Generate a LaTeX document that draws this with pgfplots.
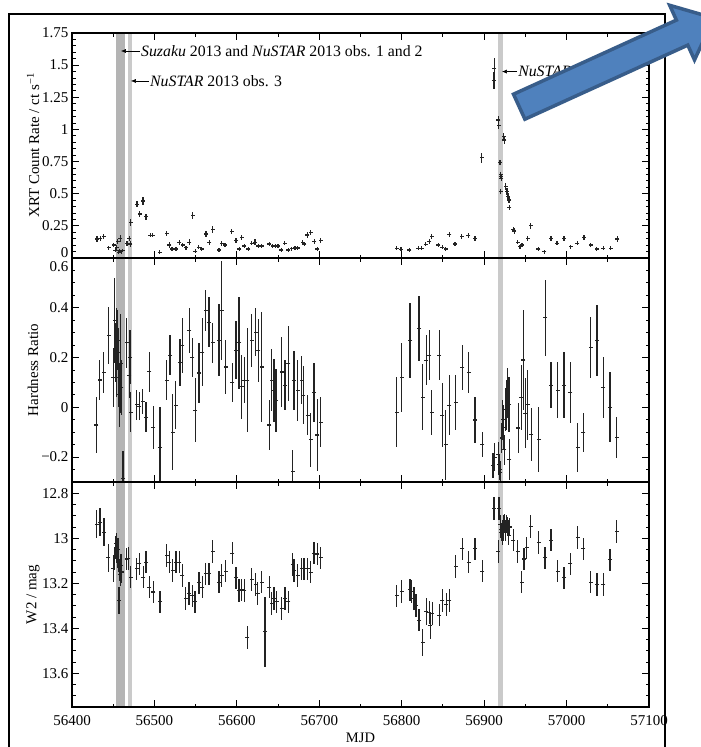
\documentclass[border=0pt]{standalone}
\usepackage{fontspec}
\setmainfont{Liberation Serif}
\usepackage{pgfplots}
\pgfplotsset{compat=1.18}
\usetikzlibrary{arrows.meta}

\definecolor{bandA}{RGB}{180,180,180}
\definecolor{bandB}{RGB}{202,202,202}
\definecolor{ink}{RGB}{35,35,35}
\definecolor{callout}{RGB}{79,129,189}
\definecolor{calloutedge}{RGB}{56,93,138}

\tikzset{note/.style={anchor=west, inner sep=0pt, font=\fontsize{15.8}{19}\selectfont}}

\pgfplotsset{
  lc/.style={
    scale only axis, width=577pt,
    xmin=56400, xmax=57100,
    scaled ticks=false,
    axis line style={line width=1.1pt},
    every tick/.style={black, line width=1pt},
    tick align=inside, xtick pos=both, ytick pos=both,
    major tick length=7pt, minor tick length=3.5pt,
    xtick={56400,56500,56600,56700,56800,56900,57000,57100},
    minor xtick={56450,56550,56650,56750,56850,56950,57050},
    font=\fontsize{15}{18}\selectfont,
    label style={font=\fontsize{14.5}{17}\selectfont},
    xticklabel style={yshift=-5pt},
    every axis y label/.style={at={(axis description cs:-0.0676,0.5)}, rotate=90, anchor=center},
    axis on top,
  },
  err/.style={only marks, mark=-, mark size=2pt, color=ink,
    mark options={line width=1.1pt, ink},
    error bars/.cd, y dir=both, y explicit,
    error bar style={line width=1.1pt, ink}, error mark=none},
}

\begin{document}
\begin{tikzpicture}
\path[use as bounding box] (0pt,0pt) rectangle (701pt,-747pt);
\fill[white] (0pt,0pt) rectangle (701pt,-747pt);
% page frame (runs off the lower edge)
\draw[line width=1.4pt] (9pt,-760pt) -- (9pt,-14pt) -- (665pt,-14pt) -- (665pt,-760pt);

% ---------- XRT count rate ----------
\begin{axis}[lc, at={(72pt,-33pt)}, anchor=north west, height=225pt,
  ymin=0, ymax=1.75,
  ytick={0.25,0.5,0.75,1,1.25,1.5,1.75},
  yticklabels={0.25,0.5,0.75,1,1.25,1.5,1.75},
  extra y ticks={0}, extra y tick labels={0},
  extra y tick style={yticklabel style={yshift=5pt}},
  minor ytick={0.05,0.1,0.15,0.2,0.3,0.35,0.4,0.45,0.55,0.6,0.65,0.7,0.8,0.85,0.9,0.95,1.05,1.1,1.15,1.2,1.3,1.35,1.4,1.45,1.55,1.6,1.65,1.7},
  xticklabels={},
  ylabel={XRT Count Rate / ct s\textsuperscript{−1}},
]
\addplot[fill=bandA, draw=none] coordinates {(56453.4,-1) (56463.9,-1) (56463.9,3) (56453.4,3)} -- cycle;
\addplot[fill=bandB, draw=none] coordinates {(56467.6,-1) (56473.2,-1) (56473.2,3) (56467.6,3)} -- cycle;
\addplot[fill=bandB, draw=none] coordinates {(56916.8,-1) (56922.5,-1) (56922.5,3) (56916.8,3)} -- cycle;
\addplot[err] table[x index=0, y index=1, y error index=2] {
56430.3 0.148 0.02
56434.4 0.153 0.02
56438.4 0.166 0.02
56444.5 0.080 0.015
56450.6 0.101 0.015
56452.5 0.060 0.015
56454.0 0.085 0.02
56455.4 0.127 0.02
56456.5 0.045 0.015
56457.5 0.055 0.015
56458.7 0.153 0.025
56460.0 0.050 0.015
56461.5 0.058 0.015
56466.7 0.114 0.02
56469.6 0.153 0.02
56470.8 0.109 0.02
56471.2 0.275 0.025
56478.9 0.418 0.025
56482.1 0.342 0.025
56486.1 0.443 0.03
56489.8 0.321 0.025
56495.0 0.177 0.015
56497.9 0.177 0.015
56506.4 0.044 0.015
56514.9 0.192 0.02
56518.0 0.101 0.02
56521.3 0.070 0.015
56526.2 0.070 0.015
56530.2 0.122 0.02
56534.3 0.101 0.015
56538.3 0.080 0.015
56542.3 0.124 0.02
56546.4 0.332 0.025
56549.6 0.054 0.015
56553.7 0.083 0.015
56557.3 0.070 0.015
56562.6 0.187 0.02
56566.6 0.122 0.02
56570.7 0.223 0.025
56578.3 0.062 0.015
56581.6 0.114 0.02
56585.6 0.101 0.015
56593.7 0.205 0.02
56599.0 0.135 0.02
56603.0 0.070 0.015
56605.9 0.161 0.02
56609.0 0.093 0.015
56613.9 0.070 0.015
56618.0 0.114 0.015
56622.0 0.124 0.02
56626.0 0.093 0.015
56630.1 0.093 0.015
56639.4 0.109 0.015
56643.5 0.093 0.015
56646.6 0.093 0.015
56649.9 0.093 0.015
56654.0 0.062 0.015
56658.0 0.114 0.015
56662.4 0.062 0.015
56666.5 0.072 0.015
56670.5 0.078 0.015
56673.8 0.078 0.015
56679.8 0.122 0.015
56681.8 0.109 0.015
56685.5 0.179 0.02
56689.6 0.197 0.02
56694.0 0.127 0.02
56697.6 0.070 0.015
56701.7 0.135 0.02
56793.9 0.075 0.015
56799.1 0.068 0.015
56809.2 0.062 0.015
56820.2 0.075 0.015
56824.2 0.075 0.015
56829.1 0.107 0.015
56833.5 0.127 0.02
56836.4 0.166 0.02
56844.5 0.101 0.015
56849.3 0.083 0.015
56853.4 0.070 0.015
56857.7 0.184 0.02
56864.6 0.109 0.015
56872.7 0.166 0.02
56880.8 0.173 0.02
56888.9 0.153 0.02
56897.0 0.780 0.04
56912.4 1.475 0.08
56912.0 1.380 0.065
56917.2 1.073 0.03
56917.6 1.034 0.03
56919.2 0.744 0.02
56920.0 0.646 0.02
56920.4 0.632 0.02
56920.8 0.620 0.02
56920.2 0.516 0.02
56923.6 0.943 0.03
56924.4 0.918 0.03
56926.2 0.555 0.025
56927.7 0.516 0.025
56928.9 0.477 0.025
56930.2 0.451 0.025
56930.6 0.394 0.02
56935.4 0.223 0.02
56936.3 0.210 0.02
56940.7 0.122 0.015
56943.5 0.088 0.015
56945.9 0.101 0.015
56952.8 0.153 0.02
56956.5 0.251 0.025
56965.7 0.070 0.015
56973.0 0.049 0.015
56981.1 0.153 0.02
56988.4 0.114 0.015
56996.9 0.153 0.02
57005.0 0.088 0.015
57013.0 0.114 0.015
57021.1 0.161 0.02
57029.3 0.101 0.015
57036.5 0.070 0.015
57044.6 0.075 0.015
57053.5 0.075 0.015
57061.6 0.148 0.02
};
% observation markers
\draw[-{Latex[length=5pt,width=4pt]}, line width=0.6pt] (axis cs:56482.5,1.61) -- (axis cs:56459.3,1.61);
\node[note] at (axis cs:56483.7,1.61) {\textit{Suzaku} 2013 and \textit{NuSTAR} 2013 obs. 1 and 2};
\draw[-{Latex[length=5pt,width=4pt]}, line width=0.6pt] (axis cs:56493.4,1.377) -- (axis cs:56471.4,1.377);
\node[note] at (axis cs:56494.6,1.377) {\textit{NuSTAR} 2013 obs. 3};
\draw[-{Latex[length=5pt,width=4pt]}, line width=0.6pt] (axis cs:56940,1.45) -- (axis cs:56921.5,1.45);
\node[note] at (axis cs:56941.2,1.45) {\textit{NuSTAR} 2014};
\end{axis}

% ---------- hardness ratio ----------
\begin{axis}[lc, at={(72pt,-258pt)}, anchor=north west, height=224pt,
  ymin=-0.3, ymax=0.6,
  ytick={-0.2,0,0.2,0.4},
  yticklabels={−0.2,0,0.2,0.4},
  extra y ticks={0.6}, extra y tick labels={0.6},
  extra y tick style={yticklabel style={yshift=-8.5pt}},
  minor ytick={-0.25,-0.15,-0.1,-0.05,0.05,0.1,0.15,0.25,0.3,0.35,0.45,0.5,0.55},
  xticklabels={},
  ylabel={Hardness Ratio},
]
\addplot[fill=bandA, draw=none] coordinates {(56453.4,-1) (56463.9,-1) (56463.9,1) (56453.4,1)} -- cycle;
\addplot[fill=bandB, draw=none] coordinates {(56467.6,-1) (56473.2,-1) (56473.2,1) (56467.6,1)} -- cycle;
\addplot[fill=bandB, draw=none] coordinates {(56916.8,-1) (56922.5,-1) (56922.5,1) (56916.8,1)} -- cycle;
\addplot[err] table[x index=0, y index=1, y error index=2] {
56429.7 -0.071 0.113
56433.8 0.110 0.081
56438.6 0.139 0.083
56444.7 0.289 0.113
56450.3 0.120 0.12
56452.0 0.350 0.170
56452.8 0.220 0.120
56453.6 0.300 0.100
56454.4 0.180 0.140
56455.2 0.270 0.120
56456.0 0.120 0.120
56456.8 0.220 0.100
56457.6 0.050 0.130
56458.4 0.150 0.150
56459.0 0.176 0.200
56460.0 0.080 0.110
56461.9 -0.287 0.110
56466.3 0.259 0.100
56469.6 0.129 0.090
56470.4 0.202 0.110
56471.2 -0.020 0.080
56478.4 0.010 0.060
56481.7 0.005 0.055
56485.8 0.025 0.050
56489.8 -0.040 0.060
56493.8 0.143 0.080
56498.6 -0.080 0.087
56506.8 -0.160 0.160
56514.9 0.109 0.080
56518.9 0.209 0.080
56522.2 -0.100 0.153
56525.8 0.009 0.097
56531.0 0.180 0.093
56533.9 0.249 0.110
56542.3 0.309 0.090
56546.0 0.200 0.077
56549.3 -0.011 0.130
56554.1 0.138 0.120
56558.1 0.222 0.137
56562.3 0.389 0.081
56566.2 0.342 0.100
56570.7 0.259 0.080
56578.3 0.269 0.145
56581.6 0.389 0.197
56586.4 0.162 0.110
56594.5 0.100 0.077
56599.0 0.229 0.117
56602.6 0.259 0.185
56605.9 0.082 0.130
56609.0 0.109 0.093
56612.8 0.109 0.210
56618.0 0.269 0.105
56622.8 0.302 0.097
56626.0 0.229 0.127
56630.1 0.162 0.220
56639.4 -0.071 0.100
56642.2 0.109 0.125
56645.0 0.069 0.127
56647.5 0.029 0.127
56654.4 0.142 0.140
56658.4 0.089 0.100
56662.4 0.176 0.150
56667.7 -0.258 0.087
56669.3 0.109 0.118
56673.8 0.069 0.123
56678.6 0.109 0.097
56680.6 0.049 0.117
56686.0 -0.031 0.080
56689.6 -0.131 0.107
56693.6 0.060 0.117
56697.6 -0.111 0.143
56701.7 -0.060 0.100
56793.9 -0.020 0.140
56800.0 0.120 0.140
56810.1 0.269 0.151
56821.0 0.318 0.130
56825.5 0.040 0.133
56829.6 0.189 0.100
56833.2 0.209 0.100
56836.4 -0.020 0.090
56845.3 0.209 0.100
56849.3 -0.031 0.130
56853.4 -0.151 0.140
56857.7 0.009 0.120
56865.5 0.020 0.110
56873.5 0.160 0.092
56881.2 0.140 0.082
56888.9 -0.051 0.092
56897.8 -0.151 0.050
56910.8 -0.232 0.050
56912.8 -0.200 0.055
56917.2 -0.190 0.050
56918.0 -0.230 0.040
56918.8 -0.250 0.040
56919.6 -0.260 0.045
56921.3 -0.123 0.060
56922.5 -0.050 0.080
56923.7 -0.080 0.090
56924.4 -0.170 0.060
56925.6 -0.010 0.087
56927.3 0.010 0.100
56928.5 0.057 0.100
56930.2 0.010 0.110
56930.6 -0.210 0.083
56941.5 -0.083 0.100
56944.8 0.040 0.130
56947.6 0.190 0.200
56949.7 -0.023 0.140
56953.0 0.010 0.140
56957.0 -0.110 0.107
56966.4 -0.130 0.130
56974.0 0.360 0.153
56981.1 0.089 0.093
56989.2 0.069 0.113
56996.9 0.089 0.133
57004.6 0.060 0.123
57013.5 -0.161 0.100
57020.3 -0.101 0.080
57029.2 0.240 0.123
57036.9 0.269 0.144
57044.6 0.080 0.123
57052.7 0.000 0.140
57060.8 -0.121 0.082
};
\end{axis}

% ---------- UVW2 magnitude ----------
\begin{axis}[lc, at={(72pt,-482pt)}, anchor=north west, height=225pt,
  ymin=12.75, ymax=13.75, y dir=reverse,
  ytick={12.8,13,13.2,13.4,13.6},
  yticklabels={12.8,13,13.2,13.4,13.6},
  minor ytick={12.85,12.9,12.95,13.05,13.1,13.15,13.25,13.3,13.35,13.45,13.5,13.55,13.65,13.7},
  xticklabels={56400,56500,56600,56700,56800,56900,57000,57100},
  ylabel={W2 / mag},
  xlabel={MJD},
  xlabel style={at={(axis description cs:0.5,0)}, anchor=center, yshift=-31pt},
]
\addplot[fill=bandA, draw=none] coordinates {(56453.4,12) (56463.9,12) (56463.9,14) (56453.4,14)} -- cycle;
\addplot[fill=bandB, draw=none] coordinates {(56467.6,12) (56473.2,12) (56473.2,14) (56467.6,14)} -- cycle;
\addplot[fill=bandB, draw=none] coordinates {(56916.8,12) (56922.5,12) (56922.5,14) (56916.8,14)} -- cycle;
\addplot[err] table[x index=0, y index=1, y error index=2] {
56429.9 12.937 0.063
56434.0 12.929 0.063
56438.8 12.973 0.063
56444.1 13.087 0.063
56450.1 13.136 0.06
56452.0 13.090 0.05
56452.8 13.040 0.05
56453.5 13.025 0.05
56454.2 13.060 0.05
56455.0 13.080 0.05
56455.8 13.050 0.05
56456.5 13.100 0.05
56457.0 13.276 0.06
56457.8 13.140 0.05
56458.6 13.160 0.05
56459.4 13.120 0.05
56460.5 13.150 0.05
56466.3 13.092 0.05
56468.5 13.090 0.05
56471.2 13.173 0.05
56478.4 13.136 0.05
56481.7 13.114 0.05
56486.6 13.173 0.05
56489.8 13.106 0.05
56493.8 13.217 0.05
56498.7 13.239 0.05
56506.8 13.283 0.05
56514.9 13.077 0.05
56518.0 13.106 0.05
56522.2 13.143 0.05
56526.2 13.106 0.05
56530.2 13.106 0.05
56533.9 13.165 0.05
56537.9 13.268 0.05
56541.9 13.246 0.05
56546.0 13.256 0.05
56549.2 13.283 0.05
56554.1 13.198 0.05
56558.1 13.217 0.05
56562.2 13.158 0.05
56566.2 13.158 0.05
56570.7 13.058 0.05
56578.3 13.195 0.05
56581.6 13.165 0.05
56586.4 13.146 0.05
56594.5 13.066 0.05
56599.0 13.176 0.05
56602.6 13.232 0.05
56605.9 13.230 0.05
56609.0 13.232 0.05
56612.8 13.442 0.05
56618.0 13.184 0.05
56622.8 13.205 0.05
56625.2 13.246 0.05
56630.1 13.195 0.05
56634.1 13.416 0.155
56639.4 13.217 0.05
56642.2 13.290 0.05
56645.0 13.268 0.05
56648.3 13.283 0.05
56654.4 13.313 0.05
56658.4 13.268 0.05
56662.4 13.283 0.05
56667.7 13.117 0.05
56669.3 13.143 0.05
56673.8 13.165 0.05
56678.6 13.136 0.05
56681.5 13.136 0.05
56686.0 13.136 0.05
56689.6 13.151 0.05
56693.6 13.066 0.05
56697.6 13.070 0.05
56701.7 13.087 0.05
56793.9 13.256 0.05
56800.0 13.236 0.05
56810.1 13.229 0.05
56812.1 13.236 0.05
56814.9 13.268 0.05
56817.3 13.298 0.05
56821.0 13.364 0.05
56825.5 13.464 0.06
56829.6 13.327 0.06
56833.2 13.330 0.05
56834.4 13.387 0.06
56836.8 13.335 0.05
56845.3 13.342 0.05
56849.3 13.276 0.05
56853.8 13.295 0.05
56857.8 13.276 0.05
56865.5 13.126 0.05
56873.5 13.047 0.05
56881.2 13.106 0.05
56888.9 13.047 0.05
56897.8 13.146 0.05
56912.0 12.867 0.05
56916.9 13.058 0.05
56918.0 12.867 0.05
56919.5 12.937 0.04
56920.3 12.960 0.04
56921.0 12.973 0.04
56921.8 12.988 0.04
56922.5 12.959 0.04
56923.3 12.937 0.04
56924.0 12.973 0.04
56924.8 12.930 0.04
56925.5 12.959 0.04
56926.3 12.973 0.04
56927.0 12.937 0.04
56928.0 12.945 0.04
56929.0 12.960 0.04
56930.0 12.988 0.04
56931.0 12.950 0.04
56935.4 13.008 0.05
56940.7 13.058 0.05
56945.5 13.195 0.05
56948.3 13.092 0.05
56951.5 13.043 0.05
56956.4 12.947 0.05
56966.1 13.018 0.05
56973.8 13.087 0.05
56981.1 13.008 0.05
56989.2 13.146 0.05
56996.9 13.176 0.05
57004.6 13.114 0.05
57013.5 12.996 0.05
57020.3 13.047 0.05
57029.2 13.195 0.05
57036.9 13.205 0.05
57044.6 13.205 0.05
57052.7 13.096 0.05
57060.8 12.969 0.05
};
\end{axis}

% call-out arrow laid over the figure
\begin{scope}
\clip (0pt,0pt) rectangle (701pt,-747pt);
\filldraw[fill=callout, draw=calloutedge, line width=3.5pt, line join=miter]
  (513.5pt,-94.2pt) -- (676.4pt,-20.1pt) -- (669.7pt,-5.3pt) -- (713.9pt,-18.1pt)
  -- (694.5pt,-59.9pt) -- (687.8pt,-45.1pt) -- (524.9pt,-119.2pt) -- cycle;
\end{scope}
\end{tikzpicture}
\end{document}
